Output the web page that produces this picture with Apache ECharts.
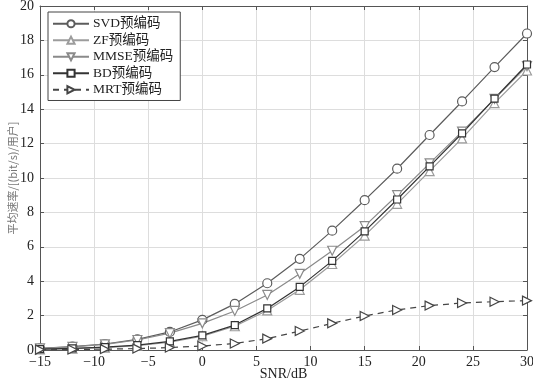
<!DOCTYPE html>
<html><head><meta charset="utf-8">
<script src="https://cdn.jsdelivr.net/npm/echarts@6/dist/echarts.min.js"></script>
<style>html,body{margin:0;padding:0;background:#fff}#c{width:533px;height:388px}</style>
</head><body><div id="c"></div>
<script>
var snr = [-15,-12,-9,-6,-3,0,3,6,9,12,15,18,21,24,27,30];
var svd  = [0.1,0.2,0.35,0.62,1.05,1.75,2.68,3.88,5.3,6.94,8.71,10.54,12.5,14.45,16.45,18.4];
var zf   = [0.04,0.08,0.14,0.25,0.45,0.8,1.38,2.3,3.5,5.0,6.65,8.5,10.4,12.3,14.35,16.25];
var mmse = [0.09,0.18,0.33,0.58,0.98,1.55,2.27,3.2,4.43,5.77,7.2,9.0,10.85,12.7,14.6,16.5];
var bd   = [0.05,0.1,0.17,0.28,0.5,0.85,1.45,2.42,3.67,5.18,6.9,8.75,10.68,12.6,14.62,16.6];
var mrt  = [0.02,0.03,0.05,0.08,0.14,0.23,0.38,0.66,1.1,1.55,1.98,2.33,2.58,2.73,2.81,2.87];
var names = ['SVD预编码','ZF预编码','MMSE预编码','BD预编码','MRT预编码'];
var xTicks = [-15,-10,-5,0,5,10,15,20,25,30];
var yTicks = [0,2,4,6,8,10,12,14,16,18,20];

function pairs(v){ return snr.map(function(x,i){ return [x, v[i]]; }); }
var serif = '"Liberation Serif","DejaVu Serif",serif';
var cjk = '"Liberation Serif","Noto Sans CJK SC",serif';

function mk(name, data, color, symbol, size, dashed){
  return {
    name: name, type: 'line', data: pairs(data),
    symbol: symbol, symbolSize: size, showSymbol: true,
    lineStyle: {color: color, width: 1.2, type: dashed ? [6,5] : 'solid'},
    itemStyle: {color: '#fff', borderColor: color, borderWidth: 1.2},
    emphasis: {disabled: true}, animation: false, z: 3
  };
}
var chart = echarts.init(document.getElementById('c'));
var axCommonX = {
  type: 'value', min: -15, max: 30, interval: 5,
  axisLine: {onZero: false, lineStyle: {color: '#555', width: 1}},
  axisTick: {inside: true, length: 4, lineStyle: {color: '#555'}},
};
var axCommonY = {
  type: 'value', min: 0, max: 20, interval: 2,
  axisLine: {onZero: false, lineStyle: {color: '#555', width: 1}},
  axisTick: {inside: true, length: 4, lineStyle: {color: '#555'}},
};
chart.setOption({
  animation: false,
  grid: {left: 40, right: 6, top: 6, bottom: 38, containLabel: false, outerBoundsMode: 'none'},
  legend: {
    orient: 'vertical', left: 48, top: 12, data: names,
    itemWidth: 36, itemHeight: 9, itemGap: 3,
    padding: [5, 7, 4, 4],
    borderColor: '#444', borderWidth: 1, backgroundColor: '#fff',
    textStyle: {fontFamily: cjk, fontSize: 13.5, color: '#222', padding: [0,0,0,-1]}
  },
  xAxis: [
    Object.assign({}, axCommonX, {
      position: 'bottom', name: 'SNR/dB', nameLocation: 'middle', nameGap: 17,
      nameMoveOverlap: false,
      nameTextStyle: {fontFamily: serif, fontSize: 14, color: '#222', verticalAlign: 'top'},
      axisLabel: {fontFamily: serif, fontSize: 14, color: '#222', margin: 5,
        formatter: function(v){ return v < 0 ? '\u2212' + Math.abs(v) : String(v); }},
      splitLine: {show: true, lineStyle: {color: '#ddd', width: 1}}
    }),
    Object.assign({}, axCommonX, {position: 'top', axisLabel: {show: false}, splitLine: {show: false}})
  ],
  yAxis: [
    Object.assign({}, axCommonY, {
      position: 'left', name: '平均速率/[(bit/s)/用户]', nameLocation: 'middle', nameGap: 22,
      nameMoveOverlap: false,
      nameTextStyle: {fontFamily: '"Noto Sans CJK SC",sans-serif', fontSize: 11, color: '#777'},
      axisLabel: {fontFamily: serif, fontSize: 14, color: '#222', margin: 6},
      splitLine: {show: true, lineStyle: {color: '#ddd', width: 1}}
    }),
    Object.assign({}, axCommonY, {position: 'right', axisLabel: {show: false}, splitLine: {show: false}})
  ],
  series: [
    mk(names[0], svd, '#5c5c5c', 'circle', 9, false),
    mk(names[1], zf, '#9c9c9c', 'triangle', 9, false),
    mk(names[2], mmse, '#8a8a8a', 'path://M0,0 L10,0 L5,9 Z', 9, false),
    mk(names[3], bd, '#333333', 'rect', 7, false),
    mk(names[4], mrt, '#454545', 'path://M0,0 L9,5 L0,10 Z', 9, true)
  ]
});
</script></body></html>
